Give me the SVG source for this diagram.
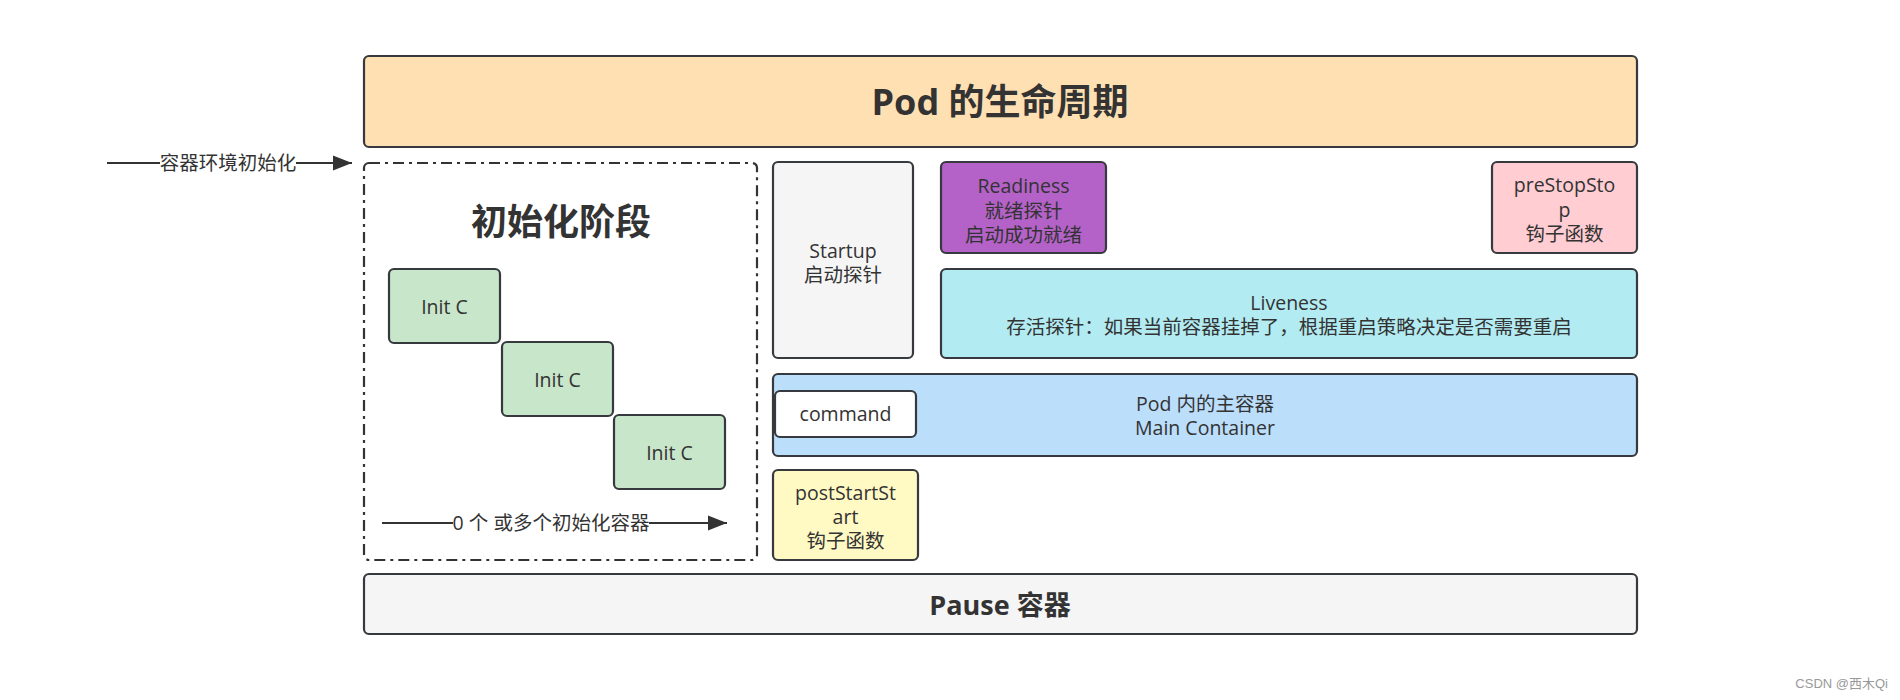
<svg xmlns="http://www.w3.org/2000/svg" width="1900" height="700" viewBox="0 0 1900 700">
<style>
  .box { stroke: #36393d; stroke-width: 2.2; }
  .t { font-family: "Open Sans", "Noto Sans CJK SC", sans-serif; font-size: 19.5px; fill: #333333; text-anchor: middle; }
  .tb { font-family: "Open Sans", "Noto Sans CJK SC", sans-serif; font-weight: bold; fill: #333333; text-anchor: middle; }
  .conn { stroke: #333333; stroke-width: 2.2; fill: none; }
</style>
<defs>
  <marker id="arrow" markerUnits="userSpaceOnUse" markerWidth="20" markerHeight="16" refX="19" refY="8" orient="auto">
    <path d="M0,0.5 L19,8 L0,15.5 Z" fill="#333333"/>
  </marker>
</defs>
<rect width="1900" height="700" fill="#ffffff"/>

<g id="lifecycle">
  <rect class="box" x="364" y="56" width="1273" height="91" rx="5" fill="#ffe0b2"/>
  <text class="tb" x="1000" y="115" font-size="36">Pod 的生命周期</text>
</g>

<g id="init-phase">
  <rect x="364" y="163" width="393" height="397" rx="5" fill="none" stroke="#333333" stroke-width="2.2" stroke-dasharray="11 5 3 5"/>
  <text class="tb" x="561" y="235" font-size="36">初始化阶段</text>
</g>

<g id="init-c-1">
  <rect class="box" x="389" y="269" width="111" height="74" rx="5" fill="#c8e6c9"/>
  <text class="t" x="444.5" y="314">Init C</text>
</g>
<g id="init-c-2">
  <rect class="box" x="502" y="342" width="111" height="74" rx="5" fill="#c8e6c9"/>
  <text class="t" x="557.5" y="387">Init C</text>
</g>
<g id="init-c-3">
  <rect class="box" x="614" y="415" width="111" height="74" rx="5" fill="#c8e6c9"/>
  <text class="t" x="669.5" y="460">Init C</text>
</g>

<g id="startup">
  <rect class="box" x="773" y="162" width="140" height="196" rx="5" fill="#f5f5f5"/>
  <text class="t" x="843" y="258">Startup</text>
  <text class="t" x="843" y="282">启动探针</text>
</g>

<g id="readiness">
  <rect class="box" x="941" y="162" width="165" height="91" rx="5" fill="#b462c8"/>
  <text class="t" x="1023.5" y="193">Readiness</text>
  <text class="t" x="1023.5" y="217.5">就绪探针</text>
  <text class="t" x="1023.5" y="242">启动成功就绪</text>
</g>

<g id="prestop">
  <rect class="box" x="1492" y="162" width="145" height="91" rx="5" fill="#ffcdd2"/>
  <text class="t" x="1564.5" y="192">preStopSto</text>
  <text class="t" x="1564.5" y="216.5">p</text>
  <text class="t" x="1564.5" y="241">钩子函数</text>
</g>

<g id="liveness">
  <rect class="box" x="941" y="269" width="696" height="89" rx="5" fill="#b2ebf2"/>
  <text class="t" x="1289" y="310">Liveness</text>
  <text class="t" x="1289" y="334">存活探针：如果当前容器挂掉了，根据重启策略决定是否需要重启</text>
</g>

<g id="main-container">
  <rect class="box" x="773" y="374" width="864" height="82" rx="5" fill="#bbdefb"/>
  <text class="t" x="1205" y="410.5">Pod 内的主容器</text>
  <text class="t" x="1205" y="434.5">Main Container</text>
</g>

<g id="command">
  <rect class="box" x="775" y="391" width="141" height="46" rx="5" fill="#ffffff"/>
  <text class="t" x="845.5" y="421">command</text>
</g>

<g id="poststart">
  <rect class="box" x="773" y="470" width="145" height="90" rx="5" fill="#fff9c4"/>
  <text class="t" x="845.5" y="499.5">postStartSt</text>
  <text class="t" x="845.5" y="523.5">art</text>
  <text class="t" x="845.5" y="547.5">钩子函数</text>
</g>

<g id="pause">
  <rect class="box" x="364" y="574" width="1273" height="60" rx="5" fill="#f5f5f5"/>
  <text class="tb" x="1000" y="614.5" font-size="27">Pause 容器</text>
</g>

<g id="connectors">
  <path class="conn" d="M107,163 H160 M296,163 H352" marker-end="url(#arrow)"/>
  <text class="t" x="228" y="170">容器环境初始化</text>
  <path class="conn" d="M382,523 H453 M649,523 H727" marker-end="url(#arrow)"/>
  <text class="t" x="551" y="530">0 个 或多个初始化容器</text>
</g>

<text x="1888" y="688" font-family="'Liberation Sans', 'Noto Sans CJK SC', sans-serif" font-size="13" fill="#999999" text-anchor="end">CSDN @西木Qi</text>
</svg>
